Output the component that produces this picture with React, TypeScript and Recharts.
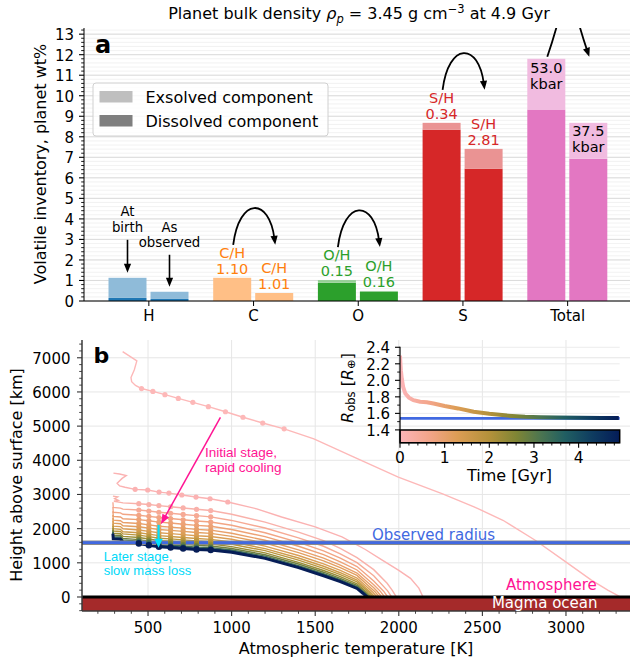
import React from 'react';
import {
  BarChart, Bar, Cell, XAxis, YAxis, CartesianGrid,
  ComposedChart, LineChart, Line, ReferenceLine, ReferenceArea, ReferenceDot,
} from 'recharts';

const FONT = '"DejaVu Sans", Verdana, sans-serif';
const SANS = '"Liberation Sans", Arial, sans-serif';

// ---------------- Panel a data ----------------
const categories = ['H', 'C', 'O', 'S', 'Total'];
const dissolvedBirth = [0.15, 0.03, 0.89, 8.34, 9.33];
const exsolvedBirth = [0.98, 1.10, 0.13, 0.34, 2.47];
const dissolvedObserved = [0.10, 0.03, 0.44, 6.44, 6.93];
const exsolvedObserved = [0.35, 0.36, 0.05, 0.97, 1.75];
const birthLabels = [['At', 'birth'], ['C/H', '1.10'], ['O/H', '0.15'], ['S/H', '0.34'], ['53.0', 'kbar']];
const observedLabels = [['As', 'observed'], ['C/H', '1.01'], ['O/H', '0.16'], ['S/H', '2.81'], ['37.5', 'kbar']];
const yTicksA = [0, 1, 2, 3, 4, 5, 6, 7, 8, 9, 10, 11, 12, 13];

// ---------------- Panel b data ----------------
const xTicksB = [500, 1000, 1500, 2000, 2500, 3000];
const yTicksB = [0, 1000, 2000, 3000, 4000, 5000, 6000, 7000];
const observedRadiusKm = 1590;

// [temperature K, height km, marker]
const curveA = [
  [348, 7180], [392, 7040], [433, 6910], [418, 6650], [398, 6420], [402, 6300], [425, 6190],
  [461, 6100, 1], [529, 6015, 1], [601, 5920, 1], [681, 5810, 1], [768, 5695, 1], [861, 5570, 1],
  [963, 5420, 1], [1068, 5260, 1], [1186, 5090, 1], [1314, 4920, 1],
  [1492, 4625], [1732, 4090], [1997, 3510], [2262, 3020], [2450, 2640], [2623, 2245],
  [2816, 1660], [2984, 1080], [3152, 495], [3250, 200], [3325, 0],
];
const curveB = [
  [293, 3625], [330, 3600], [370, 3555], [345, 3470], [315, 3330], [330, 3250], [362, 3210],
  [423, 3150, 1], [498, 3130, 1], [566, 3070, 1], [625, 3040, 1], [702, 2985, 1], [787, 2925, 1],
  [871, 2875, 1], [977, 2780, 1],
  [1150, 2580], [1299, 2340], [1500, 2050], [1660, 1760], [1800, 1390], [1901, 1080],
  [2000, 780], [2070, 545], [2120, 260], [2145, 0],
];
const curveC = [
  [290, 2950], [318, 2930], [300, 2880], [322, 2830], [296, 2800], [335, 2770], [350, 2755],
  [445, 2730, 1], [505, 2705, 1], [565, 2675, 1], [635, 2640, 1], [710, 2605, 1], [790, 2566, 1],
  [875, 2530, 1], [1000, 2420], [1200, 2190], [1400, 1900], [1550, 1650], [1650, 1420],
  [1750, 1150], [1850, 800], [1930, 400], [1960, 200], [1985, 0],
];
const bundleT = [290, 292, 335, 350, 445, 505, 565, 635, 710, 790, 875, 1000, 1200, 1400, 1550, 1650, 1750];
const bundleDotT = [445, 505, 565, 635, 710, 790, 875];
const bundleH = [
  [2770, 2620, 2600, 2570, 2545, 2515, 2480, 2450, 2415, 2380, 2345, 2240, 2020, 1730, 1485, 1265, 1005],
  [2630, 2480, 2460, 2420, 2390, 2360, 2325, 2295, 2260, 2225, 2195, 2100, 1880, 1600, 1350, 1140, 890],
  [2510, 2360, 2340, 2290, 2265, 2230, 2190, 2165, 2130, 2095, 2070, 1975, 1765, 1485, 1240, 1030, 790],
  [2400, 2250, 2230, 2180, 2150, 2110, 2070, 2045, 2015, 1980, 1955, 1865, 1660, 1380, 1135, 935, 700],
  [2310, 2160, 2145, 2085, 2055, 2015, 1975, 1950, 1920, 1885, 1860, 1775, 1575, 1300, 1055, 860, 630],
  [2225, 2075, 2060, 1995, 1960, 1920, 1880, 1855, 1825, 1790, 1770, 1690, 1490, 1215, 970, 780, 555],
  [2145, 2000, 1980, 1910, 1880, 1840, 1795, 1770, 1740, 1710, 1685, 1610, 1415, 1140, 900, 710, 495],
  [2080, 1930, 1915, 1845, 1810, 1765, 1720, 1700, 1670, 1640, 1620, 1545, 1355, 1080, 835, 655, 440],
  [2015, 1865, 1850, 1775, 1740, 1695, 1650, 1630, 1600, 1570, 1550, 1475, 1290, 1015, 775, 595, 385],
  [1960, 1810, 1800, 1715, 1680, 1635, 1590, 1570, 1540, 1510, 1490, 1420, 1235, 965, 725, 545, 340],
  [1915, 1765, 1755, 1670, 1635, 1590, 1540, 1520, 1490, 1460, 1445, 1375, 1195, 920, 680, 510, 305],
  [1885, 1735, 1720, 1635, 1600, 1550, 1505, 1485, 1455, 1425, 1410, 1345, 1160, 890, 650, 480, 275],
  [1850, 1700, 1690, 1600, 1566, 1516, 1467, 1449, 1420, 1391, 1375, 1310, 1130, 860, 620, 450, 250],
];
const bundleTails = [
  [[1850, 620], [1932, 186], [1957, 0]],
  [[1850, 470], [1909, 170], [1934, 0]],
  [[1850, 360], [1890, 165], [1915, 0]],
  [[1850, 270], [1873, 155], [1898, 0]],
  [[1859, 148], [1884, 0]],
  [[1845, 140], [1870, 0]],
  [[1832, 135], [1857, 0]],
  [[1822, 130], [1847, 0]],
  [[1811, 124], [1836, 0]],
  [[1803, 119], [1828, 0]],
  [[1796, 115], [1821, 0]],
  [[1790, 113], [1815, 0]],
  [[1785, 110], [1810, 0]],
];
// annotation arrows (temperature K, height km)
const coolingArrow = [[933, 5258], [577, 2129]];
const massLossArrow = [[563, 2110], [563, 1440]];

// ---------------- Inset data ----------------
const radiusTime = [0, 0.01, 0.02, 0.04, 0.07, 0.12, 0.2, 0.3, 0.45, 0.6, 0.75, 1.0, 1.3, 1.65, 2.0, 2.4, 2.8, 3.15, 3.5, 4.0, 4.5, 4.9];
const radiusValue = [2.30, 2.20, 2.12, 2.02, 1.92, 1.84, 1.79, 1.76, 1.74, 1.735, 1.72, 1.69, 1.66, 1.62, 1.595, 1.573, 1.56, 1.553, 1.549, 1.546, 1.545, 1.545];
const insetTicksY = [1.4, 1.6, 1.8, 2.0, 2.2, 2.4];
const insetTicksX = [0, 1, 2, 3, 4];
const observedRadiusRe = 1.54;

// ---------------- styles ----------------
const darkColors = ['#1f77b4', '#ff7f0e', '#2ca02c', '#d62728', '#e377c2'];
const lightColors = ['#8fbbd9', '#ffbf86', '#95cf95', '#ea9393', '#f1bbe0'];
const labelColors = ['#000000', '#ff7f0e', '#2ca02c', '#d62728', '#000000'];
const curveColors = ['#f9b1aa', '#f6aa95', '#f2a584', '#eda276', '#e8a06a', '#e29f60', '#da9e56',
  '#cd9b4a', '#b9963e', '#9a8c36', '#72803f', '#477050', '#1f5360', '#061d57'];
const cmapStops = [
  ['0', '#fcb4b8'], ['0.14', '#f2a487'], ['0.26', '#dd9d55'], ['0.41', '#b3913a'], ['0.53', '#7f8535'],
  ['0.64', '#4c7550'], ['0.75', '#215f62'], ['0.87', '#0f3d60'], ['1', '#041c58'],
];
const BAR_SIZE = 38;
const BAR_GAP = 4;

const range = (a: number, b: number, step: number) => {
  const out: number[] = [];
  const n = Math.round((b - a) / step);
  for (let i = 0; i <= n; i++) out.push(Math.round((a + i * step) * 1000) / 1000);
  return out;
};
const isIn = (arr: number[], v: number) => arr.some((m) => Math.abs(m - v) < 1e-6);

const minorA = range(0, 13.2, 0.2);
const minorXb = range(200, 3300, 100);
const minorYb = range(-400, 7400, 200);
const minorXi = range(0, 4.8, 0.2);
const minorYi = range(1.4, 2.4, 0.1);

const barData = categories.map((cat, i) => ({
  cat, dB: dissolvedBirth[i], eB: exsolvedBirth[i], dO: dissolvedObserved[i], eO: exsolvedObserved[i],
}));

const toPts = (arr: any[]) => arr.map((p) => ({ T: p[0], H: p[1], m: p[2] ? 1 : 0 }));
const curves = [
  { data: toPts(curveA), color: '#fdb8b8', w: 1.4, r: 2.6 },
  { data: toPts(curveB), color: '#fbb2b2', w: 1.4, r: 2.6 },
  { data: toPts(curveC), color: curveColors[0], w: 1.4, r: 2.6 },
  ...bundleH.map((hs, k) => ({
    data: [
      ...bundleT.map((T, j) => ({ T, H: hs[j], m: isIn(bundleDotT, T) ? 1 : 0 })),
      ...bundleTails[k].map((p) => ({ T: p[0], H: p[1], m: 0 })),
    ],
    color: curveColors[k + 1],
    w: k === bundleH.length - 1 ? 3 : 1.4,
    r: k === bundleH.length - 1 ? 3.2 : 2.6,
  })),
];
const radiusData = radiusTime.map((t, i) => ({ t, R: radiusValue[i] }));

// ---------------- helpers ----------------
function headPts(x1: number, y1: number, x2: number, y2: number, len: number, half: number) {
  const dx = x2 - x1, dy = y2 - y1;
  const L = Math.hypot(dx, dy) || 1;
  const ux = dx / L, uy = dy / L;
  const bx = x2 - ux * len, by = y2 - uy * len;
  const px = -uy, py = ux;
  return `${x2},${y2} ${bx + px * half},${by + py * half} ${bx - px * half},${by - py * half}`;
}

const Txt = ({ x, y, color, size, children }: any) => (
  <text x={x} y={y} textAnchor="middle" dominantBaseline="central" fontSize={size}
    fontFamily={FONT} fill={color}>{children}</text>
);

const StraightArrow = ({ x, y1, y2 }: any) => (
  <g>
    <line x1={x} x2={x} y1={y1} y2={y2 - 6} stroke="#000" strokeWidth={1.6} />
    <polygon points={headPts(x, y1, x, y2, 9, 3.6)} fill="#000" />
  </g>
);

const CurvedArrow = ({ sx, ex, sy, rise, spread }: any) => {
  const c1x = sx + spread, c2x = ex - spread, cy = sy - rise;
  const dx = ex - c2x, dy = sy - cy;
  const L = Math.hypot(dx, dy);
  const endX = ex - (dx / L) * 6, endY = sy - (dy / L) * 6;
  const d = `M${sx},${sy} C${c1x},${cy} ${c2x},${cy} ${endX},${endY}`;
  return (
    <g>
      <path d={d} fill="none" stroke="#000" strokeWidth={1.8} />
      <polygon points={headPts(c2x, cy, ex, sy, 9, 3.6)} fill="#000" />
    </g>
  );
};

const BirthTop = (p: any) => {
  const { x, y, width, height, payload } = p;
  const i = categories.indexOf(payload.cat);
  const cx = x + width / 2;
  const ox = cx + width + BAR_GAP;
  const [l1, l2] = birthLabels[i];
  const col = labelColors[i];
  let ann: any = null;
  if (i === 0) {
    ann = (
      <g>
        <Txt x={cx} y={y - 66} color={col} size={13.3}>{l1}</Txt>
        <Txt x={cx} y={y - 50} color={col} size={13.3}>{l2}</Txt>
        <StraightArrow x={cx} y1={y - 38} y2={y - 5} />
      </g>
    );
  } else if (i < 4) {
    ann = (
      <g>
        <Txt x={cx} y={y - 25} color={col} size={14.5}>{l1}</Txt>
        <Txt x={cx} y={y - 9} color={col} size={14.5}>{l2}</Txt>
        <CurvedArrow sx={cx + 1} ex={ox + 1} sy={y - 33} rise={48} spread={6} />
      </g>
    );
  } else {
    ann = (
      <g>
        <Txt x={cx} y={y + 9} color={col} size={14.5}>{l1}</Txt>
        <Txt x={cx} y={y + 25} color={col} size={14.5}>{l2}</Txt>
        <CurvedArrow sx={cx + 1} ex={ox + 1} sy={y - 2} rise={100} spread={34} />
      </g>
    );
  }
  return (
    <g>
      <rect x={x} y={y} width={width} height={Math.max(height, 0)} fill={lightColors[i]} />
      {ann}
    </g>
  );
};

const ObservedTop = (p: any) => {
  const { x, y, width, height, payload } = p;
  const i = categories.indexOf(payload.cat);
  const cx = x + width / 2;
  const [l1, l2] = observedLabels[i];
  const col = labelColors[i];
  let ann: any = null;
  if (i === 0) {
    ann = (
      <g>
        <Txt x={cx} y={y - 64} color={col} size={13.3}>{l1}</Txt>
        <Txt x={cx} y={y - 49} color={col} size={13.3}>{l2}</Txt>
        <StraightArrow x={cx} y1={y - 37} y2={y - 5} />
      </g>
    );
  } else if (i < 4) {
    ann = (
      <g>
        <Txt x={cx} y={y - 25} color={col} size={14.5}>{l1}</Txt>
        <Txt x={cx} y={y - 9} color={col} size={14.5}>{l2}</Txt>
      </g>
    );
  } else {
    ann = (
      <g>
        <Txt x={cx} y={y + 8} color={col} size={14.5}>{l1}</Txt>
        <Txt x={cx} y={y + 24} color={col} size={14.5}>{l2}</Txt>
      </g>
    );
  }
  return (
    <g>
      <rect x={x} y={y} width={width} height={Math.max(height, 0)} fill={lightColors[i]} />
      {ann}
    </g>
  );
};

const makeYTick = (majors: number[], size: number, pad: number, fmt: (v: number) => string, color: string) => (props: any) => {
  const { x, y, payload } = props;
  const v = payload.value;
  const major = isIn(majors, v);
  const len = major ? 5 : 2.8;
  return (
    <g>
      <line x1={x - len} x2={x} y1={y} y2={y} stroke={color} strokeWidth={major ? 1.1 : 0.9} />
      {major ? (
        <text x={x - len - pad} y={y + 1} textAnchor="end" dominantBaseline="central" fontSize={size}
          fontFamily={FONT} fill="#000">{fmt(v)}</text>
      ) : null}
    </g>
  );
};

const makeXTick = (majors: number[], size: number, base: number, fmt: (v: number) => string, color: string) => (props: any) => {
  const { x, y, payload } = props;
  const v = payload.value;
  const major = isIn(majors, v);
  const len = major ? 5 : 2.8;
  return (
    <g>
      <line x1={x} x2={x} y1={y} y2={y + len} stroke={color} strokeWidth={major ? 1.1 : 0.9} />
      {major ? (
        <text x={x} y={y + base} textAnchor="middle" fontSize={size} fontFamily={FONT} fill="#000">{fmt(v)}</text>
      ) : null}
    </g>
  );
};

const makeDot = (color: string, r: number) => (p: any) => {
  const { cx, cy, payload, index } = p;
  if (!payload || !payload.m || cx == null || cy == null) return <g key={`n${index}`} />;
  return <circle key={`d${index}`} cx={cx} cy={cy} r={r} fill={color} stroke="none" />;
};

// whole arrow (shaft + head) drawn from the two mapped points of a 2-point series
const makeArrowDot = (color: string, w: number, len: number, half: number) => {
  let prev: number[] | null = null;
  return (p: any) => {
    const { cx, cy, index } = p;
    if (index === 0) {
      prev = [cx, cy];
      return <g key="a0" />;
    }
    if (!prev) return <g key="a1" />;
    const [x1, y1] = prev;
    const dx = cx - x1, dy = cy - y1;
    const L = Math.hypot(dx, dy) || 1;
    const ex = cx - (dx / L) * (len - 1), ey = cy - (dy / L) * (len - 1);
    return (
      <g key="a1">
        <line x1={x1} y1={y1} x2={ex} y2={ey} stroke={color} strokeWidth={w} />
        <polygon points={headPts(x1, y1, cx, cy, len, half)} fill={color} />
      </g>
    );
  };
};

const textShape = (lines: string[], color: string, size: number, family: string, lh: number, anchor = 'start') => (p: any) => (
  <text x={p.cx} y={p.cy} fill={color} fontSize={size} fontFamily={family} textAnchor={anchor}>
    {lines.map((l, i) => (
      <tspan key={i} x={p.cx} dy={i === 0 ? 0 : lh}>{l}</tspan>
    ))}
  </text>
);

// ---------------- panels ----------------
const yTickA = makeYTick(yTicksA, 15, 5, (v) => String(v), '#000');
const yTickB = makeYTick(yTicksB, 15, 6.5, (v) => String(v), '#333');
const xTickB = makeXTick(xTicksB, 15, 22, (v) => String(v), '#333');
const yTickI = makeYTick(insetTicksY, 15, 5, (v) => v.toFixed(1), '#000');
const xTickI = makeXTick(insetTicksX, 15.5, 20.5, (v) => String(v), '#000');

function PanelA() {
  return (
    <BarChart width={631} height={330} data={barData} margin={{ top: 28, right: 1, bottom: 0, left: 0 }}
      barSize={BAR_SIZE} barGap={BAR_GAP}>
      <CartesianGrid horizontalValues={minorA} vertical={false} stroke="#efefef" strokeWidth={0.8} />
      <CartesianGrid horizontalValues={yTicksA} vertical={false} stroke="#dcdcdc" strokeWidth={1} />
      <XAxis dataKey="cat" padding={{ left: 12.5, right: 10 }} interval={0} height={29}
        tick={{ fontSize: 15, fill: '#000', fontFamily: FONT }} tickSize={5} tickMargin={4}
        axisLine={{ stroke: '#000' }} tickLine={{ stroke: '#000' }} />
      <XAxis xAxisId="top" orientation="top" dataKey="cat" height={0} tick={false} tickLine={false}
        axisLine={{ stroke: '#000' }} />
      <YAxis type="number" domain={[0, 13.3]} allowDataOverflow ticks={minorA} interval={0} width={84}
        tick={yTickA} tickSize={0} tickMargin={0} tickLine={false} axisLine={{ stroke: '#000' }} />
      <YAxis yAxisId="right" orientation="right" type="number" domain={[0, 1]} width={0} tick={false}
        tickLine={false} axisLine={{ stroke: '#000' }} />
      <Bar dataKey="dB" stackId="b" isAnimationActive={false}>
        {barData.map((d, i) => <Cell key={`db${i}`} fill={darkColors[i]} />)}
      </Bar>
      <Bar dataKey="eB" stackId="b" isAnimationActive={false} shape={BirthTop} />
      <Bar dataKey="dO" stackId="o" isAnimationActive={false}>
        {barData.map((d, i) => <Cell key={`do${i}`} fill={darkColors[i]} />)}
      </Bar>
      <Bar dataKey="eO" stackId="o" isAnimationActive={false} shape={ObservedTop} />
    </BarChart>
  );
}

function PanelB() {
  return (
    <ComposedChart width={631} height={330} margin={{ top: 10, right: 1, bottom: 0, left: 0 }}>
      <CartesianGrid horizontalValues={yTicksB} verticalValues={xTicksB} stroke="#e6e6e6" strokeWidth={1} />
      <XAxis type="number" dataKey="T" domain={[105, 3383]} allowDataOverflow ticks={minorXb} interval={0}
        height={49} tick={xTickB} tickSize={0} tickMargin={0} tickLine={false}
        axisLine={{ stroke: '#3a3a3a', strokeWidth: 1.5 }} />
      <XAxis xAxisId="top" orientation="top" type="number" domain={[0, 1]} height={0} tick={false}
        tickLine={false} axisLine={{ stroke: '#3a3a3a', strokeWidth: 1.5 }} />
      <YAxis type="number" domain={[-410, 7520]} allowDataOverflow ticks={minorYb} interval={0} width={82}
        tick={yTickB} tickSize={0} tickMargin={0} tickLine={false}
        axisLine={{ stroke: '#3a3a3a', strokeWidth: 1.5 }} />
      <YAxis yAxisId="right" orientation="right" type="number" domain={[0, 1]} width={0} tick={false}
        tickLine={false} axisLine={{ stroke: '#3a3a3a', strokeWidth: 1.5 }} />
      <ReferenceArea x1={105} x2={3383} y1={-410} y2={0} ifOverflow="visible" fill="#a52a2a"
        fillOpacity={1} stroke="none" />
      {curves.map((c, i) => (
        <Line key={`c${i}`} data={c.data} dataKey="H" type="linear" stroke={c.color} strokeWidth={c.w}
          dot={makeDot(c.color, c.r)} activeDot={false} isAnimationActive={false} legendType="none" />
      ))}
      <ReferenceLine y={0} stroke="#000" strokeWidth={3} />
      <ReferenceLine y={observedRadiusKm} stroke="#8a8a8a" strokeWidth={4.5} />
      <ReferenceLine y={observedRadiusKm} stroke="#4169e1" strokeWidth={2.6} />
      <Line data={coolingArrow.map((p) => ({ T: p[0], H: p[1] }))} dataKey="H" type="linear"
        stroke="none" dot={makeArrowDot('#ff1493', 1.5, 10, 3.8)} activeDot={false}
        isAnimationActive={false} legendType="none" />
      <Line data={massLossArrow.map((p) => ({ T: p[0], H: p[1] }))} dataKey="H" type="linear"
        stroke="none" dot={makeArrowDot('#00e1ff', 2.2, 9, 4.2)} activeDot={false}
        isAnimationActive={false} legendType="none" />
      <ReferenceDot x={841} y={4083} r={0}
        shape={textShape(['Initial stage,', 'rapid cooling'], '#ff1493', 13.5, SANS, 14.5)} />
      <ReferenceDot x={235} y={1050} r={0}
        shape={textShape(['Later stage,', 'slow mass loss'], '#00d9f8', 13, SANS, 14)} />
      <ReferenceDot x={1839} y={1662} r={0}
        shape={textShape(['Observed radius'], '#4169e1', 15, FONT, 15)} />
      <ReferenceDot x={2641} y={200} r={0}
        shape={textShape(['Atmosphere'], '#ff1493', 15, FONT, 15)} />
      <ReferenceDot x={2557} y={-330} r={0}
        shape={textShape(['Magma ocean'], '#ffffff', 15, FONT, 15)} />
    </ComposedChart>
  );
}

function Inset() {
  return (
    <LineChart width={295} height={145} margin={{ top: 8.7, right: 5.3, bottom: 0, left: 0 }}>
      <defs>
        <linearGradient id="cmapGrad" x1="0" y1="0" x2="1" y2="0">
          {cmapStops.map(([o, c]) => <stop key={o} offset={o} stopColor={c} />)}
        </linearGradient>
      </defs>
      <CartesianGrid horizontalValues={insetTicksY} vertical={false} stroke="#ececec" strokeWidth={1} />
      <XAxis type="number" dataKey="t" domain={[0, 4.92]} allowDataOverflow ticks={minorXi} interval={0}
        height={40.3} tick={xTickI} tickSize={0} tickMargin={0} tickLine={false}
        axisLine={{ stroke: '#000', strokeWidth: 1.2 }} />
      <XAxis xAxisId="top" orientation="top" type="number" domain={[0, 1]} height={0} tick={false}
        tickLine={false} axisLine={{ stroke: '#000', strokeWidth: 1.2 }} />
      <YAxis type="number" domain={[1.245, 2.407]} allowDataOverflow ticks={minorYi} interval={0} width={70}
        tick={yTickI} tickSize={0} tickMargin={0} tickLine={false}
        axisLine={{ stroke: '#000', strokeWidth: 1.2 }} />
      <YAxis yAxisId="right" orientation="right" type="number" domain={[0, 1]} width={0} tick={false}
        tickLine={false} axisLine={{ stroke: '#000', strokeWidth: 1.2 }} />
      <ReferenceArea x1={0} x2={4.92} y1={1.245} y2={1.4} ifOverflow="visible" fill="url(#cmapGrad)"
        fillOpacity={1} stroke="#000" strokeWidth={1.5} />
      <ReferenceLine y={observedRadiusRe} stroke="#4169e1" strokeWidth={2.6} />
      <Line data={radiusData} dataKey="R" type="linear" stroke="url(#cmapGrad)" strokeWidth={4}
        dot={false} activeDot={false} isAnimationActive={false} />
    </LineChart>
  );
}

function Overlay() {
  return (
    <svg width={631} height={660} style={{ position: 'absolute', left: 0, top: 0, pointerEvents: 'none' }}>
      <text x={359} y={19.3} textAnchor="middle" fontSize={16} fontFamily={FONT} fill="#000">
        Planet bulk density <tspan fontStyle="italic">ρ</tspan>
        <tspan fontStyle="italic" fontSize={11.5} dy={4}>p</tspan>
        <tspan dy={-4}> = 3.45 g cm</tspan>
        <tspan fontSize={11.5} dy={-6}>−3</tspan>
        <tspan dy={6}> at 4.9 Gyr</tspan>
      </text>
      <text x={95} y={53.3} fontSize={24} fontWeight="bold" fontFamily={FONT} fill="#000">a</text>
      <text x={93.5} y={363} fontSize={22} fontWeight="bold" fontFamily={FONT} fill="#000">b</text>
      <text x={40} y={164} transform="rotate(-90 40 164)" textAnchor="middle" dominantBaseline="central"
        fontSize={16} fontFamily={FONT} fill="#000">Volatile inventory, planet wt%</text>
      <text x={16} y={475} transform="rotate(-90 16 475)" textAnchor="middle" dominantBaseline="central"
        fontSize={16} fontFamily={FONT} fill="#000">Height above surface [km]</text>
      <text x={356} y={648} textAnchor="middle" dominantBaseline="central" fontSize={16} fontFamily={FONT}
        fill="#000">Atmospheric temperature [K]</text>
      <text x={509.5} y={475} textAnchor="middle" dominantBaseline="central" fontSize={16} fontFamily={FONT}
        fill="#000">Time [Gyr]</text>
      <text x={347} y={388} transform="rotate(-90 347 388)" textAnchor="middle" dominantBaseline="central"
        fontSize={16} fontFamily={FONT} fill="#000">
        <tspan fontStyle="italic">R</tspan>
        <tspan fontSize={11.5} dy={4}>obs</tspan>
        <tspan dy={-4}> [</tspan>
        <tspan fontStyle="italic">R</tspan>
        <tspan fontSize={11.5} dy={4}>⊕</tspan>
        <tspan dy={-4}>]</tspan>
      </text>
      <rect x={93} y={83} width={235} height={53} rx={3} fill="#ffffff" fillOpacity={0.8} stroke="#d0d0d0" />
      <rect x={99.5} y={91} width={33} height={11.5} fill="#bfbfbf" />
      <rect x={99.5} y={115} width={33} height={11.5} fill="#7f7f7f" />
      <text x={145.5} y={97} dominantBaseline="central" fontSize={16} fontFamily={FONT} fill="#000">Exsolved component</text>
      <text x={145.5} y={121} dominantBaseline="central" fontSize={16} fontFamily={FONT} fill="#000">Dissolved component</text>
    </svg>
  );
}

export default function App() {
  return (
    <div style={{ position: 'fixed', left: 0, top: 0, width: 631, height: 660, background: '#fff', overflow: 'hidden', fontFamily: FONT }}>
      <div style={{ position: 'absolute', left: 0, top: 0 }}><PanelA /></div>
      <div style={{ position: 'absolute', left: 0, top: 330 }}><PanelB /></div>
      <div style={{ position: 'absolute', left: 330, top: 338 }}><Inset /></div>
      <Overlay />
    </div>
  );
}
